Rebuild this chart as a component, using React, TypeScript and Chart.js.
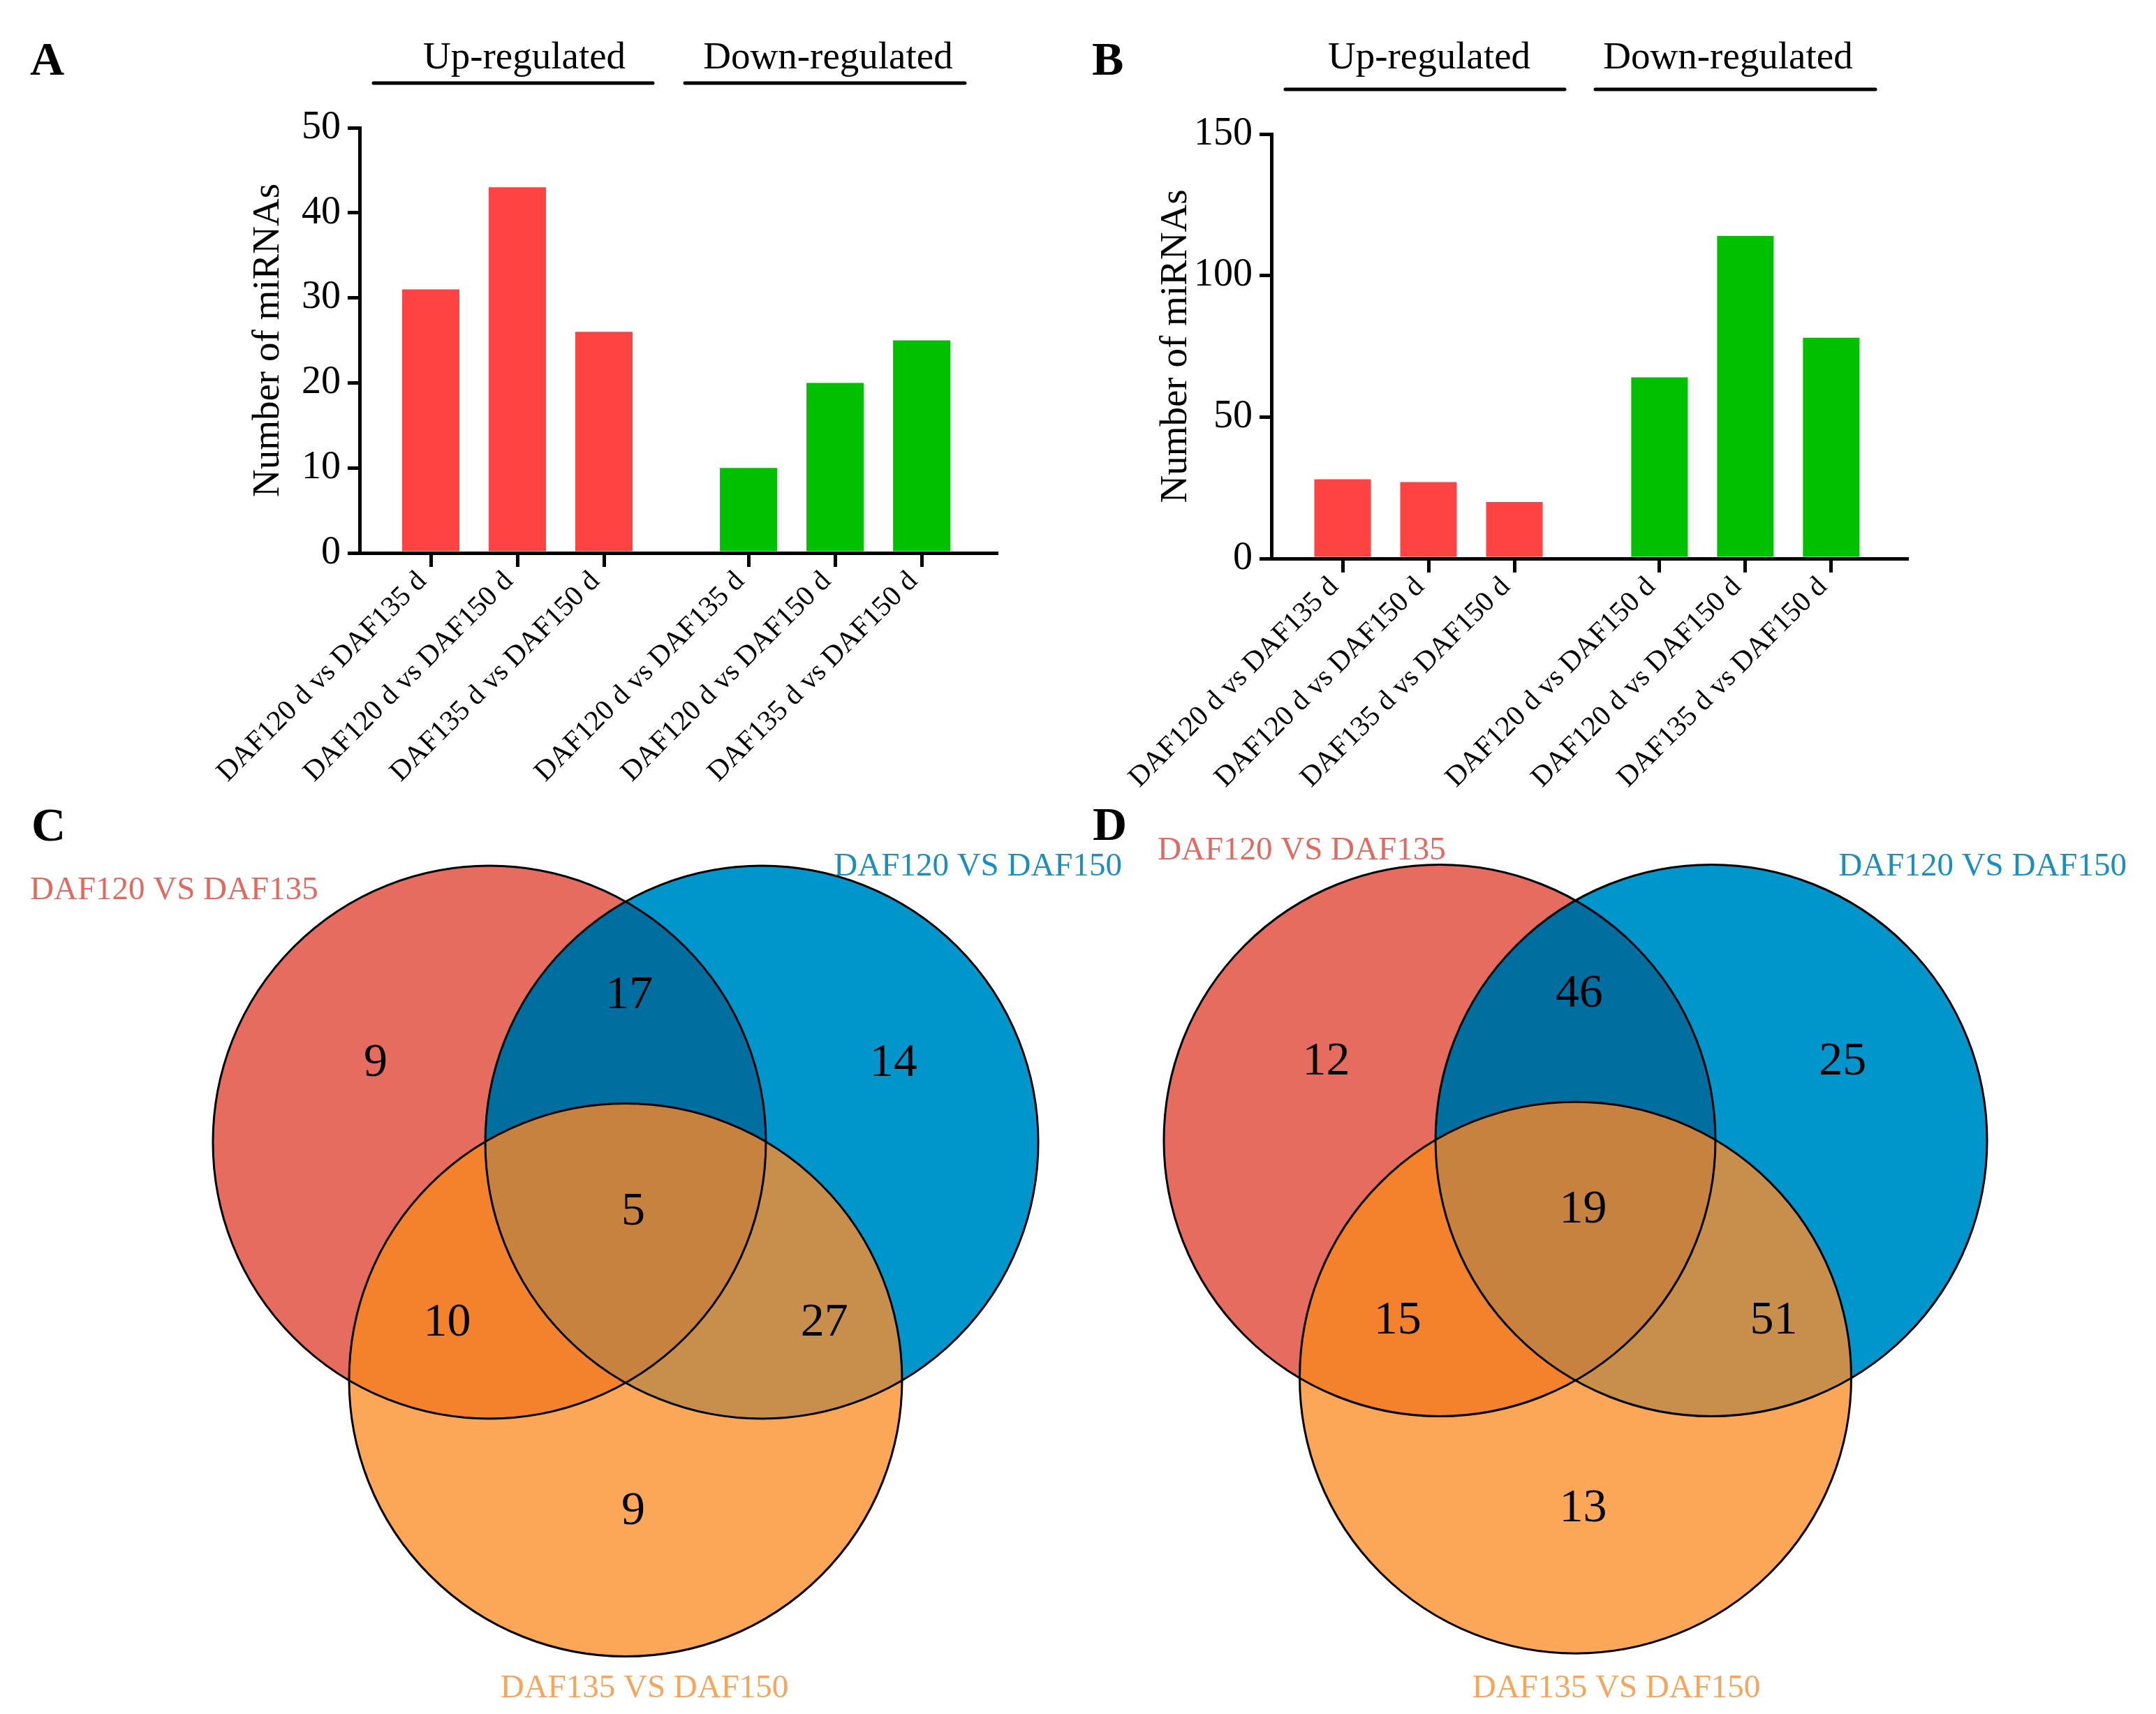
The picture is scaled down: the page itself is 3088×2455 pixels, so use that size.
import React, { useEffect, useRef } from "react";
import { Chart, registerables } from "chart.js";

Chart.register(...registerables);

const FONT = "'Liberation Serif', 'Times New Roman', Times, serif";
Chart.defaults.font.family = FONT;

// ---------------- DATA ----------------
// Panel A
const upCategoriesA = ["DAF120 d vs DAF135 d", "DAF120 d vs DAF150 d", "DAF135 d vs DAF150 d"];
const downCategoriesA = ["DAF120 d vs DAF135 d", "DAF120 d vs DAF150 d", "DAF135 d vs DAF150 d"];
const upValuesA = [31, 43, 26];
const downValuesA = [10, 20, 25];
const yTicksA = [0, 10, 20, 30, 40, 50];

// Panel B
const upCategoriesB = ["DAF120 d vs DAF135 d", "DAF120 d vs DAF150 d", "DAF135 d vs DAF150 d"];
const downCategoriesB = ["DAF120 d vs DAF150 d", "DAF120 d vs DAF150 d", "DAF135 d vs DAF150 d"];
const upValuesB = [28, 27, 20];
const downValuesB = [64, 114, 78];
const yTicksB = [0, 50, 100, 150];

const groupTitles = ["Up-regulated", "Down-regulated"];
const yAxisTitle = "Number of miRNAs";

// Venn panels C and D (regions: A only, A∩B, B only, A∩B∩C, A∩C, B∩C, C only)
const vennSetNames = ["DAF120 VS DAF135", "DAF120 VS DAF150", "DAF135 VS DAF150"];
const vennRegions = ["A", "AB", "B", "ABC", "AC", "BC", "C"];
const vennCountsC = [9, 17, 14, 5, 10, 27, 9];
const vennCountsD = [12, 46, 25, 19, 15, 51, 13];

// ---------------- STYLE / LAYOUT ----------------
const UP_COLOR = "#FF4242";
const DOWN_COLOR = "#00C000";

const VENN_CIRCLES = [
  [-0.4925, 0],
  [0.4925, 0],
  [0, -0.86],
];
const VENN_ANCHORS: Record<string, [number, number]> = {
  A: [-0.904, 0.284],
  AB: [0.013, 0.53],
  B: [0.969, 0.284],
  ABC: [0.028, -0.253],
  AC: [-0.645, -0.655],
  BC: [0.719, -0.655],
  C: [0.028, -1.335],
};
const REGION_COLORS: Record<string, string> = {
  A: "#E76C60",
  B: "#0096CC",
  C: "#FCA758",
  AB: "#006E9F",
  AC: "#F4812B",
  BC: "#C88E4C",
  ABC: "#C7823F",
};
const SET_LABEL_COLORS = ["#E2695D", "#1A8EC3", "#F7A55A"];

type BarSpec = {
  letter: string;
  canvas: { left: number; top: number; width: number; height: number };
  area: { left: number; right: number; top: number; bottom: number };
  titleX: number;
  firstTickPx: number;
  spacingPx: number;
  gap: number;
  barPx: number;
  letterX: number;
  letterY: number;
  textY: number;
  lineY: number;
  headers: { textX: number; x1: number; x2: number }[];
};

const panelA: BarSpec = {
  letter: "A",
  canvas: { left: 0, top: 0, width: 1544, height: 1160 },
  area: { left: 515, right: 1427, top: 183, bottom: 792 },
  titleX: 385,
  firstTickPx: 617,
  spacingPx: 124,
  gap: 1.67,
  barPx: 82,
  letterX: 43,
  letterY: 107,
  textY: 98,
  lineY: 119,
  headers: [
    { textX: 751, x1: 535, x2: 935 },
    { textX: 1186, x1: 981, x2: 1382 },
  ],
};

const panelB: BarSpec = {
  letter: "B",
  canvas: { left: 1544, top: 0, width: 1544, height: 1160 },
  area: { left: 277, right: 1187, top: 192, bottom: 800 },
  titleX: 141,
  firstTickPx: 379,
  spacingPx: 123,
  gap: 1.69,
  barPx: 81,
  letterX: 20,
  letterY: 107,
  textY: 98,
  lineY: 128,
  headers: [
    { textX: 503, x1: 297, x2: 697 },
    { textX: 931, x1: 741, x2: 1142 },
  ],
};

type VennSpec = {
  letter: string;
  canvas: { left: number; top: number; width: number; height: number };
  midX: number;
  midY: number;
  unitPx: number;
  letterX: number;
  letterY: number;
  labels: { x: number; y: number; align: CanvasTextAlign }[];
};

const panelC: VennSpec = {
  letter: "C",
  canvas: { left: 0, top: 1120, width: 1640, height: 1335 },
  midX: 896,
  midY: 516,
  unitPx: 396,
  letterX: 45,
  letterY: 84,
  labels: [
    { x: 43, y: 168, align: "left" },
    { x: 1607, y: 134, align: "right" },
    { x: 923, y: 1311, align: "center" },
  ],
};

const panelD: VennSpec = {
  letter: "D",
  canvas: { left: 1540, top: 1120, width: 1548, height: 1335 },
  midX: 716.5,
  midY: 513.5,
  unitPx: 395,
  letterX: 25,
  letterY: 83,
  labels: [
    { x: 118, y: 111, align: "left" },
    { x: 1506, y: 134, align: "right" },
    { x: 775, y: 1311, align: "center" },
  ],
};

// ---------------- CONFIG BUILDERS ----------------
function makeBarDeco(spec: BarSpec) {
  return {
    id: "barDeco" + spec.letter,
    afterDraw(chart: any) {
      const ctx: CanvasRenderingContext2D = chart.ctx;
      ctx.save();
      ctx.fillStyle = "#000";
      ctx.strokeStyle = "#000";
      ctx.textBaseline = "alphabetic";
      ctx.textAlign = "left";
      ctx.font = `bold 68px ${FONT}`;
      ctx.fillText(spec.letter, spec.letterX, spec.letterY);
      ctx.font = `55px ${FONT}`;
      ctx.textAlign = "center";
      spec.headers.forEach((h, i) => {
        ctx.fillText(groupTitles[i], h.textX, spec.textY);
        ctx.beginPath();
        ctx.lineWidth = 5;
        ctx.lineCap = "round";
        ctx.moveTo(h.x1, spec.lineY);
        ctx.lineTo(h.x2, spec.lineY);
        ctx.stroke();
      });
      ctx.restore();
    },
  };
}

function barConfig(
  spec: BarSpec,
  upCats: string[],
  downCats: string[],
  upVals: number[],
  downVals: number[],
  yTicks: number[]
): any {
  const upPos = upVals.map((_, i) => i);
  const downPos = downVals.map((_, i) => upVals.length - 1 + spec.gap + i);
  const positions = [...upPos, ...downPos];
  const labels = [...upCats, ...downCats];
  const xMin = (spec.area.left - spec.firstTickPx) / spec.spacingPx;
  const xMax = (spec.area.right - spec.firstTickPx) / spec.spacingPx;
  const titleLine = 55 * 1.2;
  const padLeft = spec.titleX - titleLine / 2;
  const H = spec.canvas.height;
  const W = spec.canvas.width;

  return {
    type: "bar",
    data: {
      datasets: [
        {
          label: groupTitles[0],
          data: upVals.map((v, i) => ({ x: upPos[i], y: v })),
          backgroundColor: UP_COLOR,
          borderWidth: 0,
          grouped: false,
          maxBarThickness: spec.barPx,
        },
        {
          label: groupTitles[1],
          data: downVals.map((v, i) => ({ x: downPos[i], y: v })),
          backgroundColor: DOWN_COLOR,
          borderWidth: 0,
          grouped: false,
          maxBarThickness: spec.barPx,
        },
      ],
    },
    options: {
      animation: false,
      responsive: false,
      devicePixelRatio: 1,
      events: [],
      layout: {
        padding: {
          left: padLeft,
          top: spec.area.top,
          right: W - spec.area.right,
          bottom: 0,
        },
      },
      plugins: { legend: { display: false }, tooltip: { enabled: false } },
      scales: {
        x: {
          type: "linear",
          offset: false,
          min: xMin,
          max: xMax,
          afterBuildTicks: (axis: any) => {
            axis.ticks = positions.map((v) => ({ value: v }));
          },
          afterFit: (axis: any) => {
            axis.height = H - spec.area.bottom;
          },
          ticks: {
            autoSkip: false,
            maxRotation: 45,
            minRotation: 45,
            padding: -3,
            labelOffset: -12,
            color: "#000",
            font: { size: 41, family: FONT },
            callback: (_v: any, i: number) => labels[i],
          },
          grid: {
            display: true,
            offset: false,
            drawOnChartArea: false,
            drawTicks: true,
            tickLength: 20,
            tickWidth: 5,
            tickColor: "#000",
            lineWidth: 5,
            color: "#000",
          },
          border: { display: true, color: "#000", width: 5 },
        },
        y: {
          type: "linear",
          min: yTicks[0],
          max: yTicks[yTicks.length - 1],
          afterBuildTicks: (axis: any) => {
            axis.ticks = yTicks.map((v) => ({ value: v }));
          },
          afterFit: (axis: any) => {
            axis.width = spec.area.left - padLeft;
          },
          title: {
            display: true,
            text: yAxisTitle,
            color: "#000",
            font: { size: 55, family: FONT },
            padding: 0,
          },
          ticks: {
            padding: 10,
            color: "#000",
            font: { size: 56, family: FONT },
          },
          grid: {
            display: true,
            drawOnChartArea: false,
            drawTicks: true,
            tickLength: 17,
            tickWidth: 5,
            tickColor: "#000",
            lineWidth: 5,
            color: "#000",
          },
          border: { display: true, color: "#000", width: 5 },
        },
      },
    },
    plugins: [makeBarDeco(spec)],
  };
}

function makeVennPlugin(spec: VennSpec, counts: number[]) {
  return {
    id: "venn" + spec.letter,
    beforeDatasetsDraw(chart: any) {
      const ctx: CanvasRenderingContext2D = chart.ctx;
      const xs = chart.scales.x;
      const ys = chart.scales.y;
      const r = xs.getPixelForValue(1) - xs.getPixelForValue(0);
      const pts = VENN_CIRCLES.map(([cx, cy]) => [xs.getPixelForValue(cx), ys.getPixelForValue(cy)]);
      const path = (i: number) => {
        ctx.beginPath();
        ctx.arc(pts[i][0], pts[i][1], r, 0, Math.PI * 2);
      };
      const fill = (target: number, clips: number[], color: string) => {
        ctx.save();
        clips.forEach((c) => {
          path(c);
          ctx.clip();
        });
        path(target);
        ctx.fillStyle = color;
        ctx.fill();
        ctx.restore();
      };
      ctx.save();
      fill(0, [], REGION_COLORS.A);
      fill(1, [], REGION_COLORS.B);
      fill(1, [0], REGION_COLORS.AB);
      fill(2, [], REGION_COLORS.C);
      fill(2, [0], REGION_COLORS.AC);
      fill(2, [1], REGION_COLORS.BC);
      fill(2, [0, 1], REGION_COLORS.ABC);
      ctx.strokeStyle = "#000";
      ctx.lineWidth = 3;
      for (let i = 0; i < 3; i++) {
        path(i);
        ctx.stroke();
      }
      ctx.restore();
    },
    afterDatasetsDraw(chart: any) {
      const ctx: CanvasRenderingContext2D = chart.ctx;
      const meta = chart.getDatasetMeta(0);
      ctx.save();
      ctx.fillStyle = "#000";
      ctx.font = `68px ${FONT}`;
      ctx.textAlign = "center";
      ctx.textBaseline = "middle";
      meta.data.forEach((el: any, i: number) => {
        ctx.fillText(String(counts[i]), el.x, el.y);
      });
      ctx.textBaseline = "alphabetic";
      ctx.font = `47px ${FONT}`;
      spec.labels.forEach((l, i) => {
        ctx.fillStyle = SET_LABEL_COLORS[i];
        ctx.textAlign = l.align;
        ctx.fillText(vennSetNames[i], l.x, l.y);
      });
      ctx.fillStyle = "#000";
      ctx.textAlign = "left";
      ctx.font = `bold 68px ${FONT}`;
      ctx.fillText(spec.letter, spec.letterX, spec.letterY);
      ctx.restore();
    },
  };
}

function vennConfig(spec: VennSpec, counts: number[]): any {
  const { width, height } = spec.canvas;
  const u = spec.unitPx;
  return {
    type: "scatter",
    data: {
      datasets: [
        {
          label: "regions",
          data: vennRegions.map((k) => ({ x: VENN_ANCHORS[k][0], y: VENN_ANCHORS[k][1] })),
          pointRadius: 0,
          pointHoverRadius: 0,
        },
      ],
    },
    options: {
      animation: false,
      responsive: false,
      devicePixelRatio: 1,
      events: [],
      layout: { padding: 0 },
      plugins: { legend: { display: false }, tooltip: { enabled: false } },
      scales: {
        x: { type: "linear", display: false, min: -spec.midX / u, max: (width - spec.midX) / u },
        y: { type: "linear", display: false, min: -(height - spec.midY) / u, max: spec.midY / u },
      },
    },
    plugins: [makeVennPlugin(spec, counts)],
  };
}

// ---------------- COMPONENTS ----------------
function ChartCanvas({ box, build }: { box: { left: number; top: number; width: number; height: number }; build: () => any }) {
  const ref = useRef<HTMLCanvasElement | null>(null);
  useEffect(() => {
    if (!ref.current) return;
    const chart = new Chart(ref.current, build());
    return () => chart.destroy();
  }, []);
  return (
    <canvas
      ref={ref}
      width={box.width}
      height={box.height}
      style={{ position: "absolute", left: box.left, top: box.top, width: box.width, height: box.height }}
    />
  );
}

export default function App() {
  return (
    <div
      style={{
        position: "absolute",
        left: 0,
        top: 0,
        width: 3088,
        height: 2455,
        background: "#fff",
        overflow: "hidden",
      }}
    >
      <ChartCanvas
        box={panelA.canvas}
        build={() => barConfig(panelA, upCategoriesA, downCategoriesA, upValuesA, downValuesA, yTicksA)}
      />
      <ChartCanvas
        box={panelB.canvas}
        build={() => barConfig(panelB, upCategoriesB, downCategoriesB, upValuesB, downValuesB, yTicksB)}
      />
      <ChartCanvas box={panelC.canvas} build={() => vennConfig(panelC, vennCountsC)} />
      <ChartCanvas box={panelD.canvas} build={() => vennConfig(panelD, vennCountsD)} />
    </div>
  );
}
